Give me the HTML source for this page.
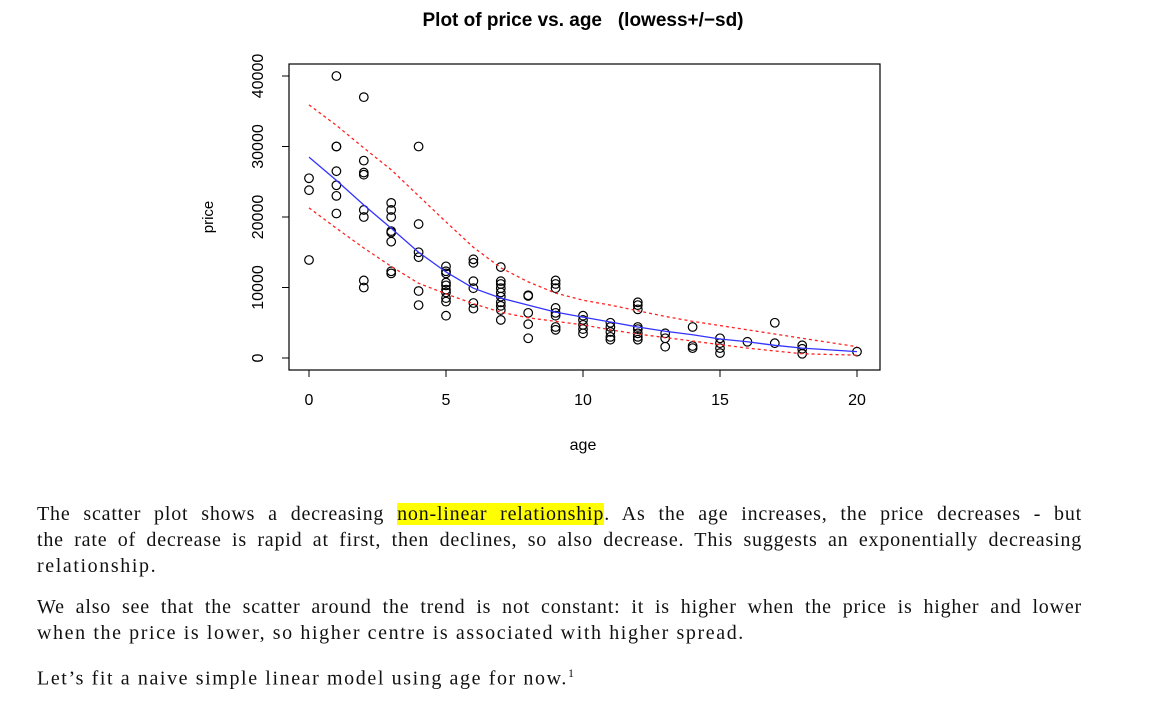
<!DOCTYPE html>
<html><head><meta charset="utf-8"><style>
body{margin:0;background:#fff;width:1160px;height:704px;overflow:hidden;position:relative;font-family:"Liberation Serif",serif;}
.ln{position:absolute;left:37px;width:1045px;font-size:20px;letter-spacing:1.6px;line-height:24px;white-space:nowrap;color:#111}
.j{text-align:justify;text-align-last:justify;letter-spacing:0.8px}
.hl{background:#ffff00}
</style></head><body>
<svg width="1160" height="480" style="position:absolute;left:0;top:0" font-family="Liberation Sans, sans-serif">
<text x="583" y="26" text-anchor="middle" font-weight="bold" font-size="19" xml:space="preserve">Plot of price vs. age   (lowess+/−sd)</text>
<rect x="289" y="64" width="591" height="306" fill="none" stroke="#000" stroke-width="1.2"/>
<g id="g"></g>
<text transform="translate(213,217) rotate(-90)" text-anchor="middle" font-size="15">price</text>
<text x="583" y="450" text-anchor="middle" font-size="16">age</text>
</svg>
<div class="ln j" style="top:502px">The scatter plot shows a decreasing <span class="hl">non-linear relationship</span>. As the age increases, the price decreases - but</div>
<div class="ln j" style="top:528px">the rate of decrease is rapid at first, then declines, so also decrease. This suggests an exponentially decreasing</div>
<div class="ln" style="top:554px">relationship.</div>
<div class="ln j" style="top:595px">We also see that the scatter around the trend is not constant: it is higher when the price is higher and lower</div>
<div class="ln" style="top:621px">when the price is lower, so higher centre is associated with higher spread.</div>
<div class="ln" style="top:661px">Let’s fit a naive simple linear model using age for now.<sup style="font-size:12px">1</sup></div>
<script>
const ages=[0,0,0,1,1,1,1,1,1,1,2,2,2,2,2,2,2,2,3,3,3,3,3,3,3,3,4,4,4,4,4,4,5,5,5,5,5,5,5,5,5,5,6,6,6,6,6,6,7,7,7,7,7,7,7,7,7,7,8,8,8,8,8,9,9,9,9,9,9,9,9,10,10,10,10,10,11,11,11,11,11,12,12,12,12,12,12,12,12,13,13,13,14,14,14,15,15,15,15,16,17,17,18,18,18,20];
const prices=[25500,23800,13900,40000,30000,30000,26500,24500,23000,20500,37000,28000,26300,26000,21000,20000,11000,10000,22000,21000,20000,18000,17800,16500,12300,12000,30000,19000,15000,14300,9500,7500,13000,12300,12000,10700,10300,9700,9300,8500,8000,6000,14000,13500,10900,9900,7800,7000,12900,10900,10500,9900,9300,8700,7900,7400,6800,5400,8900,8800,6400,4800,2800,11000,10500,9900,7100,6400,6000,4400,4000,6000,5400,4700,4100,3500,5000,4400,3700,3000,2600,7900,7500,6900,4400,4100,3500,3000,2600,3500,2800,1600,4400,1700,1400,2800,2100,1400,700,2300,5000,2100,1800,1300,600,900];
const fitAges=[0,1,2,3,4,5,6,7,8,9,10,11,12,13,14,15,16,17,18,20];
const fitMid=[28500,25200,21700,18400,15000,12200,9900,8500,7500,6500,5800,5100,4400,3800,3300,2700,2300,1800,1400,900];
const fitUpper=[35900,33000,29800,26700,23000,19300,15700,12800,10800,9200,8200,7500,6700,5900,5200,4600,4000,3400,2800,1600];
const fitLower=[21300,18400,15600,13000,10600,9100,7700,6500,5700,5200,4700,4000,3400,2900,2400,1900,1400,1000,600,400];
const xTicks=[0,5,10,15,20];
const yTicks=[0,10000,20000,30000,40000];
const NS='http://www.w3.org/2000/svg';
const X=v=>309+v*27.4, Y=v=>358-v*0.00705;
const g=document.getElementById('g');
function mk(t,a){const e=document.createElementNS(NS,t);for(const k in a)e.setAttribute(k,a[k]);g.appendChild(e);return e;}
xTicks.forEach(t=>{
 const l=mk('line',{x1:X(t),x2:X(t),y1:370,y2:377,stroke:'#000'});
 
 
 const tx=mk('text',{x:X(t),y:405,'text-anchor':'middle','font-size':16});tx.textContent=t;
 
 
});
mk('line',{x1:X(0),x2:X(20),y1:370,y2:370,stroke:'#000'});
yTicks.forEach(t=>{
 const l=mk('line',{x1:282,x2:289,y1:Y(t),y2:Y(t),stroke:'#000'});
 
 
 const tx=mk('text',{transform:`translate(263,${Y(t)}) rotate(-90)`,'text-anchor':'middle','font-size':16});tx.textContent=t;
 
 
});
ages.forEach((a,i)=>{
 const c=mk('circle',{cx:X(a),cy:Y(prices[i]),r:4.3,fill:'none',stroke:'#000','stroke-width':1.2});
 
 
});
function path(arr,col,dash,name){
 const d=fitAges.map((a,i)=>(i?'L':'M')+X(a)+','+Y(arr[i])).join(' ');
 const p=mk('path',{d:d,fill:'none',stroke:col,'stroke-width':1.3});
 if(dash)p.setAttribute('stroke-dasharray','3,3');
 
 
}
path(fitMid,'#3333ff',false,'lowess-line');
path(fitUpper,'#ff2222',true,'upper-sd-line');
path(fitLower,'#ff2222',true,'lower-sd-line');
</script>
</body></html>
